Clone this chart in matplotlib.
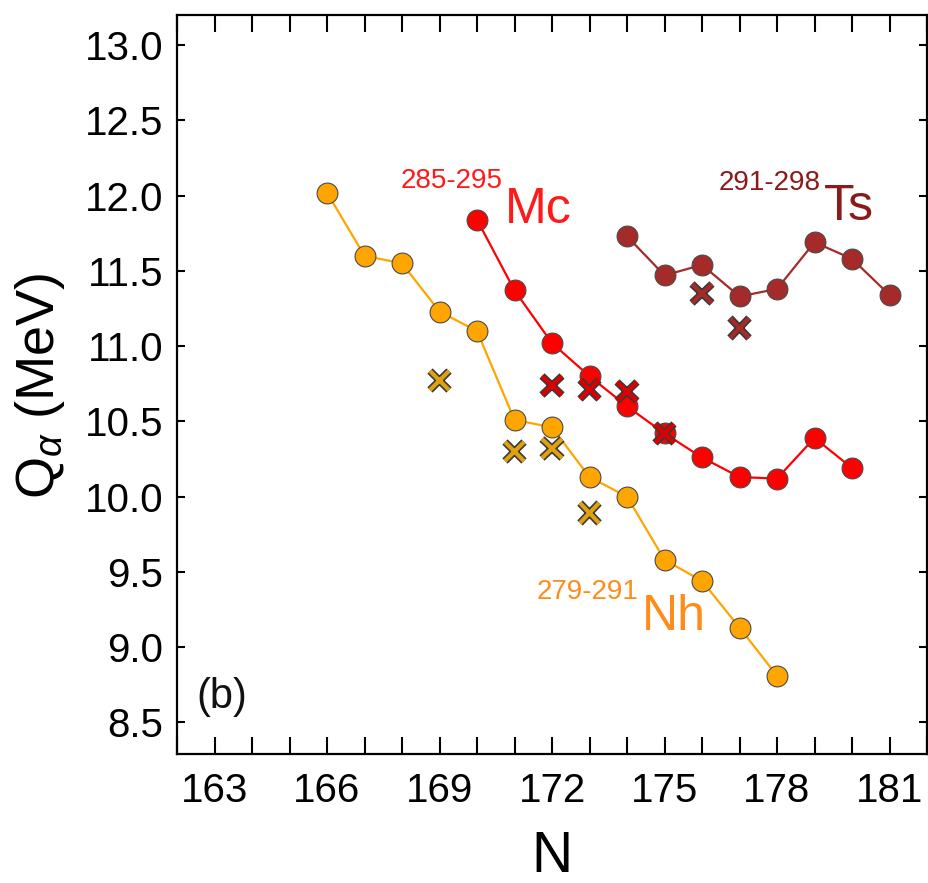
import matplotlib
matplotlib.use("Agg")
import matplotlib.pyplot as plt
import matplotlib.patheffects as pe
from matplotlib.ticker import MultipleLocator

plt.rcParams['font.family'] = ['Liberation Sans', 'DejaVu Sans']
plt.rcParams['mathtext.fontset'] = 'custom'
plt.rcParams['mathtext.rm'] = 'Liberation Sans'
plt.rcParams['mathtext.it'] = 'Liberation Sans:italic'

# ---- data ----
nh_N = [166, 167, 168, 169, 170, 171, 172, 173, 174, 175, 176, 177, 178]
nh_Q = [12.02, 11.60, 11.55, 11.23, 11.10, 10.51, 10.46, 10.13, 10.00, 9.58, 9.44, 9.13, 8.81]
nh_expN = [169, 171, 172, 173]
nh_expQ = [10.77, 10.30, 10.32, 9.89]

mc_N = [170, 171, 172, 173, 174, 175, 176, 177, 178, 179, 180]
mc_Q = [11.84, 11.37, 11.02, 10.80, 10.60, 10.42, 10.26, 10.13, 10.12, 10.39, 10.19]
mc_expN = [172, 173, 174, 175]
mc_expQ = [10.74, 10.71, 10.70, 10.42]

ts_N = [174, 175, 176, 177, 178, 179, 180, 181]
ts_Q = [11.73, 11.47, 11.54, 11.33, 11.38, 11.69, 11.58, 11.34]
ts_expN = [176, 177]
ts_expQ = [11.35, 11.12]

x_ticks = [163, 166, 169, 172, 175, 178, 181]
y_ticks = [8.5, 9.0, 9.5, 10.0, 10.5, 11.0, 11.5, 12.0, 12.5, 13.0]

# ---- figure ----
fig = plt.figure(figsize=(9.29, 8.83), dpi=100)
ax = fig.add_axes([177/929, (883-754)/883, (927-177)/929, (754-15)/883])

series = [
    (nh_N, nh_Q, nh_expN, nh_expQ, '#FFA500', '#FFA500', '#E0A010'),
    (mc_N, mc_Q, mc_expN, mc_expQ, '#FF0000', '#FF0000', '#DD0000'),
    (ts_N, ts_Q, ts_expN, ts_expQ, '#A52A2A', '#A52A2A', '#A52A2A'),
]
for N, Q, eN, eQ, lc, mc, xc in series:
    ax.plot(N, Q, '-', color=lc, lw=1.6, zorder=2)
    ax.plot(N, Q, 'o', ls='none', ms=15, mfc=mc, mec='#4a4a4a', mew=0.8, zorder=3)
    ax.plot(eN, eQ, 'x', ls='none', ms=14, mec=xc, mew=3.0, zorder=4,
            path_effects=[pe.Stroke(linewidth=5.4, foreground='#3a3a3a'), pe.Normal()])

ax.set_xlim(162, 182)
ax.set_ylim(8.29, 13.2)
ax.set_xticks(x_ticks)
ax.set_xticklabels([str(t) for t in x_ticks])
ax.xaxis.set_minor_locator(MultipleLocator(1))
ax.set_yticks(y_ticks)
ax.set_yticklabels([f"{t:.1f}" for t in y_ticks])

ax.tick_params(axis='x', which='both', direction='in', length=12, width=1.5,
               top=True, bottom=True, labelsize=29, pad=13)
ax.tick_params(axis='y', which='major', direction='in', length=6, width=1.5,
               left=True, right=True, labelsize=29, pad=10)
for s in ax.spines.values():
    s.set_linewidth(1.6)

ax.set_xlabel('N', fontsize=41)
ax.xaxis.set_label_coords(0.5, -0.16)
ax.xaxis.label.set_va('baseline')
ax.set_ylabel(r'Q$_\alpha$ (MeV)', fontsize=39)
ax.yaxis.set_label_coords(-0.183, 0.498)
ax.yaxis.label.set_va('center')

# ---- labels ----
ax.text(167.97, 12.05, '285-295', color='#FF1A1A', fontsize=20, ha='left', va='baseline')
ax.text(170.75, 11.82, 'Mc', color='#FF1A1A', fontsize=36, ha='left', va='baseline')
ax.text(176.45, 12.04, '291-298', color='#8B1A1A', fontsize=20, ha='left', va='baseline')
ax.text(179.25, 11.84, 'Ts', color='#8B1A1A', fontsize=36, ha='left', va='baseline')
ax.text(171.6, 9.32, '279-291', color='#FF8C1A', fontsize=20, ha='left', va='baseline')
ax.text(174.4, 9.115, 'Nh', color='#FF8C1A', fontsize=36, ha='left', va='baseline')
ax.text(162.51, 8.67, '(b)', color='#111111', fontsize=30, ha='left', va='center')

fig.savefig('out.png', dpi=100)
